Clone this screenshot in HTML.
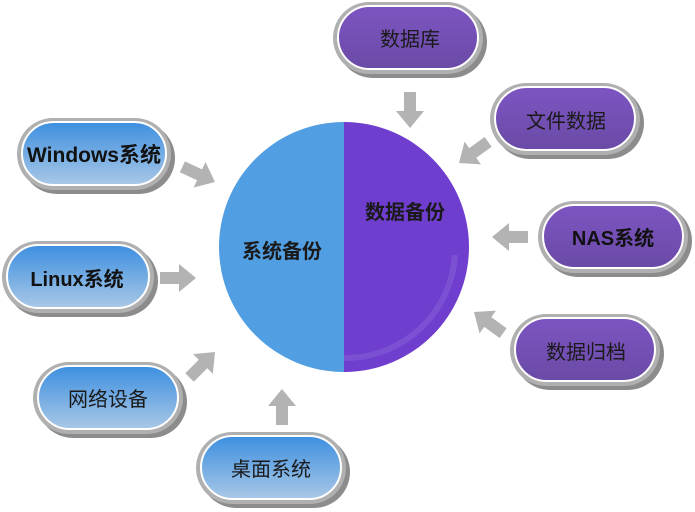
<!DOCTYPE html>
<html><head><meta charset="utf-8"><style>html,body{margin:0;padding:0;background:#fff}svg{display:block}</style></head><body>
<svg width="695" height="512" viewBox="0 0 695 512" xmlns="http://www.w3.org/2000/svg" font-family="'Liberation Sans','Noto Sans CJK SC',sans-serif">
<defs>
<linearGradient id="gb" x1="0" y1="0" x2="0" y2="1"><stop offset="0" stop-color="#3d8fe0"/><stop offset="1" stop-color="#a9c8e6"/></linearGradient>
<linearGradient id="gp" x1="0" y1="0" x2="0" y2="1"><stop offset="0" stop-color="#7d55c2"/><stop offset="1" stop-color="#6a4aa6"/></linearGradient>
<g id="arr"><polygon points="-36,-6 -17,-6 -17,-14 0,0 -17,14 -17,6 -36,6" fill="#b3b3b3"/></g>
</defs>

<path d="M344,122 A125,125 0 0 0 344,372 Z" fill="#519ee2"/>
<path d="M344,122 A125,125 0 0 1 344,372 Z" fill="#6f3ecf"/>
<path d="M455,255 A110,110 0 0 1 344,358" fill="none" stroke="#8a66d8" stroke-width="6" opacity="0.45"/>
<text x="282" y="258" font-size="20" font-weight="bold" text-anchor="middle" fill="#1a1a1a">系统备份</text>
<text x="405" y="219" font-size="20" font-weight="bold" text-anchor="middle" fill="#1a1a1a">数据备份</text>

<use href="#arr" transform="translate(215,182) rotate(25)"/>
<use href="#arr" transform="translate(196,278)"/>
<use href="#arr" transform="translate(215,352) rotate(-45)"/>
<use href="#arr" transform="translate(282,389) rotate(-90)"/>
<use href="#arr" transform="translate(410,128) rotate(90)"/>
<use href="#arr" transform="translate(459,163) rotate(144)"/>
<use href="#arr" transform="translate(492,237) rotate(180)"/>
<use href="#arr" transform="translate(474,312) rotate(216)"/>

<g font-size="20" fill="#1a1a1a" text-anchor="middle">
<rect x="337" y="6" width="150" height="72" rx="36" fill="#8c8c8c"/>
<rect x="333" y="2" width="150" height="72" rx="36" fill="#b0b0b0"/>
<rect x="338" y="6" width="140" height="63" rx="31.5" fill="url(#gp)" stroke="#fff" stroke-width="2"/>
<text x="410" y="46">数据库</text>

<rect x="494" y="87" width="150" height="72" rx="36" fill="#8c8c8c"/>
<rect x="490" y="83" width="150" height="72" rx="36" fill="#b0b0b0"/>
<rect x="495" y="87" width="140" height="63" rx="31.5" fill="url(#gp)" stroke="#fff" stroke-width="2"/>
<text x="566" y="128">文件数据</text>

<rect x="542" y="205" width="150" height="72" rx="36" fill="#8c8c8c"/>
<rect x="538" y="201" width="150" height="72" rx="36" fill="#b0b0b0"/>
<rect x="543" y="205" width="140" height="63" rx="31.5" fill="url(#gp)" stroke="#fff" stroke-width="2"/>
<text x="613" y="245" font-weight="bold" fill="#111">NAS系统</text>

<rect x="514" y="318" width="150" height="72" rx="36" fill="#8c8c8c"/>
<rect x="510" y="314" width="150" height="72" rx="36" fill="#b0b0b0"/>
<rect x="515" y="318" width="140" height="63" rx="31.5" fill="url(#gp)" stroke="#fff" stroke-width="2"/>
<text x="586" y="359">数据归档</text>

<rect x="21" y="122" width="154" height="72" rx="36" fill="#8c8c8c"/>
<rect x="17" y="118" width="154" height="72" rx="36" fill="#b0b0b0"/>
<rect x="22" y="122" width="144" height="63" rx="31.5" fill="url(#gb)" stroke="#fff" stroke-width="2"/>
<text x="94" y="162" font-weight="bold" fill="#111" font-size="21">Windows系统</text>

<rect x="6" y="245" width="152" height="72" rx="36" fill="#8c8c8c"/>
<rect x="2" y="241" width="152" height="72" rx="36" fill="#b0b0b0"/>
<rect x="7" y="245" width="142" height="63" rx="31.5" fill="url(#gb)" stroke="#fff" stroke-width="2"/>
<text x="77" y="286" font-weight="bold" fill="#111">Linux系统</text>

<rect x="37" y="366" width="150" height="72" rx="36" fill="#8c8c8c"/>
<rect x="33" y="362" width="150" height="72" rx="36" fill="#b0b0b0"/>
<rect x="38" y="366" width="140" height="63" rx="31.5" fill="url(#gb)" stroke="#fff" stroke-width="2"/>
<text x="108" y="406">网络设备</text>

<rect x="200" y="436" width="150" height="72" rx="36" fill="#8c8c8c"/>
<rect x="196" y="432" width="150" height="72" rx="36" fill="#b0b0b0"/>
<rect x="201" y="436" width="140" height="63" rx="31.5" fill="url(#gb)" stroke="#fff" stroke-width="2"/>
<text x="271" y="476">桌面系统</text>
</g>
</svg>
</body></html>
